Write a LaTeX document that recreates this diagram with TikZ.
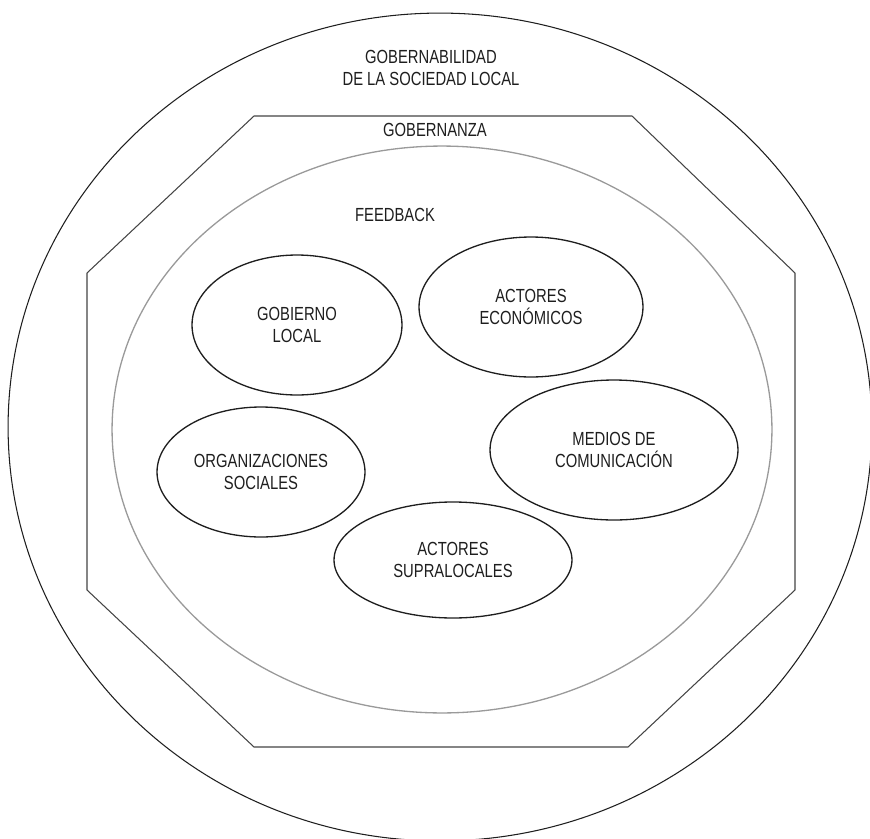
\documentclass[tikz,border=0pt]{standalone}
\usepackage{fontspec}
\setmainfont{Liberation Sans}[FakeStretch=0.78]
\usetikzlibrary{shapes}
\definecolor{ink}{HTML}{1E1E1E}
\definecolor{octo}{HTML}{444444}
\definecolor{fb}{HTML}{9A9A9A}
\tikzset{%
	actor/.style	= {draw=ink, ellipse, line width=0.75pt, align=center, text=ink, inner sep=0pt}, % Actor
	ring/.style		= {align=center, text=ink, inner sep=0pt} % Ring title
}

\begin{document}
\begin{tikzpicture}[x=0.02cm, y=-0.02cm, font=\fontsize{10.8}{12.6}\selectfont]
	\useasboundingbox (0,0) rectangle (870,839);
	\clip (0,0) rectangle (870,839);

	% Rings : society, governance, feedback
	\draw[ink, line width=0.6pt] (440,427) ellipse [x radius=8.64cm, y radius=8.28cm];
	\draw[octo, line width=0.6pt] (254,116) -- (632,116) -- (795,273) -- (795,590)
		-- (628,747) -- (254,747) -- (87,590) -- (87,273) -- cycle;
	\draw[fb, line width=0.75pt] (442,429.5) ellipse [x radius=6.6cm, y radius=5.67cm];

	\draw
	node at (431,68) [ring] (gobernabilidad) {GOBERNABILIDAD\\DE LA SOCIEDAD LOCAL}
	node at (435,130) [ring] (gobernanza) {GOBERNANZA}
	node at (395,215) [ring] (feedback) {FEEDBACK}
	;

	% Actors inside the feedback ring
	\draw
	node at (297,325) [actor, minimum width=4.2cm, minimum height=2.8cm] (gobierno) {GOBIERNO\\LOCAL}
	node at (531,307) [actor, minimum width=4.48cm, minimum height=2.8cm] (economicos) {ACTORES\\ECONÓMICOS}
	node at (261,472) [actor, minimum width=4.16cm, minimum height=2.6cm] (sociales) {ORGANIZACIONES\\SOCIALES}
	node at (614,450) [actor, minimum width=4.96cm, minimum height=2.8cm] (medios) {MEDIOS DE\\COMUNICACIÓN}
	node at (453,560) [actor, minimum width=4.76cm, minimum height=2.32cm] (supralocales) {ACTORES\\SUPRALOCALES}
	;
\end{tikzpicture}
\end{document}
